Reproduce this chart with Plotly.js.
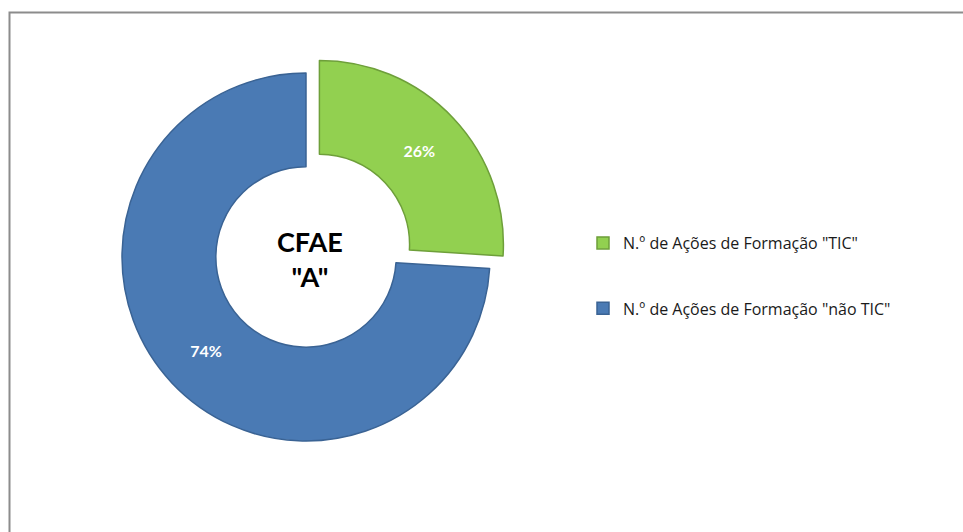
<!DOCTYPE html>
<html>
<head>
<meta charset="utf-8">
<script src="https://cdn.plot.ly/plotly-3.0.1.min.js"></script>
<style>html,body{margin:0;padding:0;background:#fff;}#chart{width:963px;height:532px;}</style>
</head>
<body>
<div id="chart"></div>
<script>
const categories = ['N.º de Ações de Formação "TIC"', 'N.º de Ações de Formação "não TIC"'];
const values = [26, 74];
const sliceColors = ['#92d050', '#4a7ab4'];
const sliceLines = ['#6e9f3a', '#3a6394'];
const pulls = [0.1, 0];
const centerText = 'CFAE<br>"A"';

const W = 963, H = 532;
const cx = 306, cy = 257, R = 184;
const half = R * 1.1;

// legend rows in the reference are widely spaced: pad all but the last entry with blank lines
const legendLabels = categories.map((c, i) => i < categories.length - 1 ? c + '<br>\u00a0<br>\u00a0' : c);

const trace = {
  type: 'pie',
  labels: legendLabels,
  values: values,
  sort: false,
  direction: 'clockwise',
  rotation: 0,
  hole: 0.49,
  pull: pulls,
  marker: {colors: sliceColors, line: {color: sliceLines, width: 1.5}},
  texttemplate: '%{percent:.0%}',
  textposition: 'inside',
  insidetextorientation: 'horizontal',
  textfont: {family: 'Lato, "Open Sans", sans-serif', size: 16, color: '#ffffff', weight: 'bold'},
  hoverinfo: 'percent',
  domain: {x: [(cx - half) / W, (cx + half) / W], y: [1 - (cy + half) / H, 1 - (cy - half) / H]}
};

const layout = {
  width: W, height: H,
  margin: {l: 0, r: 0, t: 0, b: 0},
  paper_bgcolor: '#ffffff',
  font: {family: '"Open Sans", sans-serif', color: '#000000'},
  showlegend: true,
  legend: {
    x: 583 / W, xanchor: 'left',
    y: 1 - 226 / H, yanchor: 'top',
    valign: 'top',
    font: {size: 16, color: '#1a1a1a', family: '"Open Sans", sans-serif'},
    itemwidth: 30,
    bgcolor: 'rgba(0,0,0,0)'
  },
  annotations: [{
    text: '<b>' + centerText + '</b>',
    xref: 'paper', yref: 'paper',
    x: (cx + 4) / W, y: 1 - (cy + 2) / H,
    xanchor: 'center', yanchor: 'middle',
    showarrow: false,
    font: {size: 27, color: '#000000', family: 'Lato, "Open Sans", sans-serif'}
  }],
  shapes: [{
    type: 'rect', xref: 'paper', yref: 'paper',
    x0: 9.5 / W, x1: 1.2, y0: -0.2, y1: 1 - 12.5 / H,
    line: {color: '#8c8c8c', width: 2}
  }]
};

Plotly.newPlot('chart', [trace], layout, {staticPlot: true, displayModeBar: false});
</script>
</body>
</html>
